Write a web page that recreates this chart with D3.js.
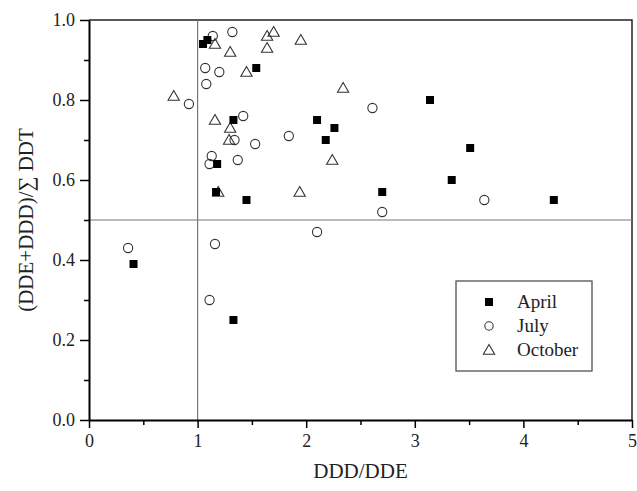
<!DOCTYPE html>
<html>
<head>
<meta charset="utf-8">
<script src="https://d3js.org/d3.v7.min.js"></script>
<style>
body { margin: 0; background: #fff; }
text { font-family: "Liberation Serif", "Times New Roman", serif; }
</style>
</head>
<body>
<div id="chart-area"></div>
<script>
var april = [
    [1.05, 0.94], [1.09, 0.95], [1.54, 0.88], [1.33, 0.75], [1.18, 0.64], [1.17, 0.57],
    [1.45, 0.55], [0.41, 0.39], [1.33, 0.25], [2.10, 0.75], [2.26, 0.73], [2.18, 0.70],
    [3.14, 0.80], [3.51, 0.68], [3.34, 0.60], [2.70, 0.57], [4.28, 0.55]
];
var july = [
    [1.14, 0.96], [1.32, 0.97], [1.07, 0.88], [1.20, 0.87], [1.08, 0.84], [0.92, 0.79],
    [1.42, 0.76], [1.34, 0.70], [1.53, 0.69], [1.13, 0.66], [1.37, 0.65], [1.11, 0.64],
    [1.84, 0.71], [2.61, 0.78], [0.36, 0.43], [1.16, 0.44], [2.10, 0.47], [2.70, 0.52],
    [3.64, 0.55], [1.11, 0.30]
];
var october = [
    [1.16, 0.94], [1.30, 0.92], [1.64, 0.96], [1.70, 0.97], [1.64, 0.93], [1.95, 0.95],
    [1.45, 0.87], [0.78, 0.81], [1.16, 0.75], [1.30, 0.73], [1.29, 0.70], [2.34, 0.83],
    [2.24, 0.65], [1.19, 0.57], [1.94, 0.57]
];
var xTicks = [0, 1, 2, 3, 4, 5];
var yTicks = [0, 0.2, 0.4, 0.6, 0.8, 1.0];
var legendNames = ["April", "July", "October"];

var width = 637, height = 491;
var margin = {top: 20, bottom: 71, left: 89, right: 5};

var svg = d3.select("#chart-area").append("svg")
    .attr("width", width)
    .attr("height", height);

var x = d3.scaleLinear().domain([0, 5]).range([margin.left, width - margin.right]);
var y = d3.scaleLinear().domain([0, 1]).range([height - margin.bottom, margin.top]);

// frame top/right
svg.append("path")
    .attr("d", "M" + x(0) + "," + y(1) + "H" + x(5) + "V" + y(0))
    .attr("fill", "none").attr("stroke", "#222").attr("stroke-width", 1.5);

// reference lines
svg.append("line")
    .attr("x1", x(1)).attr("x2", x(1)).attr("y1", y(0)).attr("y2", y(1))
    .attr("stroke", "#777").attr("stroke-width", 1.2);
svg.append("line")
    .attr("x1", x(0)).attr("x2", x(5)).attr("y1", y(0.5)).attr("y2", y(0.5))
    .attr("stroke", "#777").attr("stroke-width", 1.2);

// minor ticks
svg.append("g")
    .attr("transform", "translate(0," + y(0) + ")")
    .call(d3.axisBottom(x).tickValues([0.5, 1.5, 2.5, 3.5, 4.5]).tickSize(5).tickFormat(""))
    .call(g => g.select(".domain").remove())
    .selectAll("line").attr("stroke-width", 1.5);
svg.append("g")
    .attr("transform", "translate(" + x(0) + ",0)")
    .call(d3.axisLeft(y).tickValues([0.1, 0.3, 0.5, 0.7, 0.9]).tickSize(5).tickFormat(""))
    .call(g => g.select(".domain").remove())
    .selectAll("line").attr("stroke-width", 1.5);

var bottomAxis = d3.axisBottom(x).tickValues(xTicks).tickSize(8).tickSizeOuter(0).tickPadding(6)
    .tickFormat(d3.format("d"));
var gx = svg.append("g")
    .attr("transform", "translate(0," + y(0) + ")")
    .call(bottomAxis);
gx.select(".domain").attr("stroke-width", 2);
gx.selectAll("line").attr("stroke-width", 1.5);
gx.selectAll("text").attr("font-size", "18px").attr("fill", "#222");

var leftAxis = d3.axisLeft(y).tickValues(yTicks).tickSize(9).tickSizeOuter(0).tickPadding(5)
    .tickFormat(d3.format(".1f"));
var gy = svg.append("g")
    .attr("transform", "translate(" + x(0) + ",0)")
    .call(leftAxis);
gy.select(".domain").attr("stroke-width", 2);
gy.selectAll("line").attr("stroke-width", 1.5);
gy.selectAll("text").attr("font-size", "18px").attr("fill", "#222");

// axis titles
svg.append("text")
    .attr("x", (x(0) + x(5)) / 2)
    .attr("y", 478)
    .attr("text-anchor", "middle")
    .attr("font-size", "21px")
    .attr("fill", "#222")
    .text("DDD/DDE");

svg.append("text")
    .attr("transform", "translate(33," + y(0.5) + ") rotate(-90)")
    .attr("text-anchor", "middle")
    .attr("font-size", "21px")
    .attr("fill", "#222")
    .text("(DDE+DDD)/\u2211 DDT");

// markers
var square = d3.symbol().type(d3.symbolSquare).size(64);
var triangle = d3.symbol().type(d3.symbolTriangle).size(55);

svg.append("g").selectAll("path")
    .data(october).enter().append("path")
    .attr("d", triangle)
    .attr("transform", d => "translate(" + x(d[0]) + "," + (y(d[1]) + 1) + ")")
    .attr("fill", "none").attr("stroke", "#333").attr("stroke-width", 1.1);

svg.append("g").selectAll("circle")
    .data(july).enter().append("circle")
    .attr("cx", d => x(d[0]))
    .attr("cy", d => y(d[1]))
    .attr("r", 4.6)
    .attr("fill", "none").attr("stroke", "#333").attr("stroke-width", 1.1);

svg.append("g").selectAll("path")
    .data(april).enter().append("path")
    .attr("d", square)
    .attr("transform", d => "translate(" + x(d[0]) + "," + y(d[1]) + ")")
    .attr("fill", "#000");

// legend
var lg = svg.append("g");
lg.append("rect")
    .attr("x", 456).attr("y", 281).attr("width", 136).attr("height", 90)
    .attr("fill", "#fff").attr("stroke", "#444").attr("stroke-width", 1.2);
var rows = lg.selectAll("g.row").data(legendNames).enter().append("g")
    .attr("transform", (d, i) => "translate(489," + (302 + i * 24) + ")");
rows.append("path")
    .attr("d", (d, i) => i == 0 ? square() : (i == 1 ? d3.symbol().type(d3.symbolCircle).size(55)() : triangle()))
    .attr("transform", (d, i) => i == 2 ? "translate(0,1)" : null)
    .attr("fill", (d, i) => i == 0 ? "#000" : "none")
    .attr("stroke", (d, i) => i == 0 ? "none" : "#333")
    .attr("stroke-width", 1.1);
rows.append("text")
    .attr("x", 28).attr("y", 6)
    .attr("font-size", "19px")
    .attr("fill", "#222")
    .text(d => d);
</script>
</body>
</html>
